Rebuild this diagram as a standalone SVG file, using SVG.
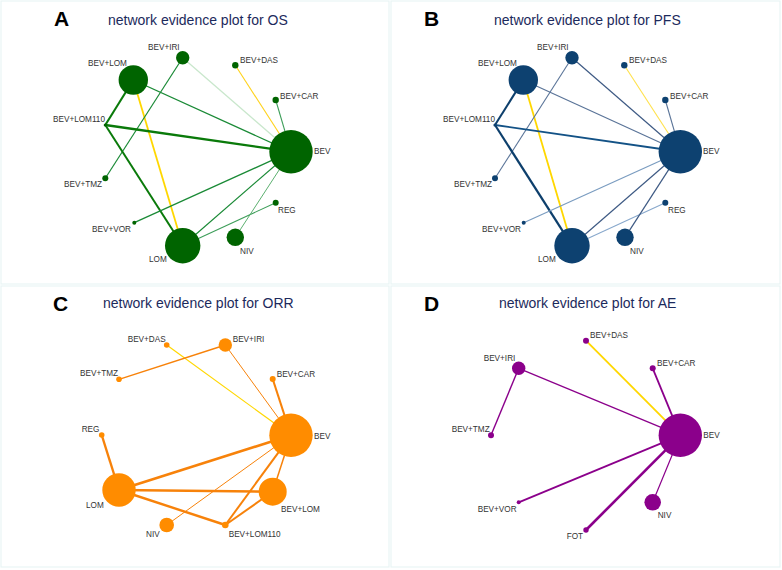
<svg xmlns="http://www.w3.org/2000/svg" width="782" height="570" viewBox="0 0 782 570">
<style>
.panel{fill:#ffffff;stroke:#e9f5f5;stroke-width:1.2}
.letter{font-family:"Liberation Sans",Arial,sans-serif;font-weight:bold;font-size:21px;fill:#000}
.title{font-family:"Liberation Sans",Arial,sans-serif;font-size:14px;fill:#1c2a5c}
.lbl{font-family:"Liberation Sans",Arial,sans-serif;font-size:8.2px;fill:#333}
.g{fill:#006400}.b{fill:#0d4170}.o{fill:#ff8c00}.p{fill:#8b008b}
line{stroke-linecap:butt}
.yel{stroke:#ffd700}
</style>
<rect class="panel" x="1" y="1" width="388" height="283"/>
<rect class="panel" x="391" y="1" width="389" height="283"/>
<rect class="panel" x="1" y="286" width="388" height="281"/>
<rect class="panel" x="391" y="286" width="389" height="281"/>

<!-- Panel A -->
<g id="panelA">
<text class="letter" x="54" y="26">A</text>
<text class="title" x="108" y="24.5">network evidence plot for OS</text>
<g id="edgesA" fill="none">
<line x1="133.3" y1="80" x2="291" y2="151.7" stroke="#1a8a36" stroke-width="1.3"/>
<line x1="133.3" y1="80" x2="105.3" y2="125" stroke="#0a7a0a" stroke-width="2.1"/>
<line x1="133.3" y1="80" x2="182.7" y2="245.7" class="yel" stroke-width="1.8"/>
<line x1="182.7" y1="57.7" x2="105.3" y2="178.3" stroke="#1a8a36" stroke-width="1.2"/>
<line x1="182.7" y1="57.7" x2="291" y2="151.7" stroke="#c9e7cc" stroke-width="1.3"/>
<line x1="235.3" y1="65.3" x2="291" y2="151.7" stroke="#ffd21a" stroke-width="1.1"/>
<line x1="275.7" y1="100" x2="291" y2="151.7" stroke="#3e9e5a" stroke-width="1.1"/>
<line x1="105.3" y1="125" x2="291" y2="151.7" stroke="#0a7a0a" stroke-width="2.3"/>
<line x1="105.3" y1="125" x2="182.7" y2="245.7" stroke="#0a7a0a" stroke-width="2"/>
<line x1="134.3" y1="222.7" x2="291" y2="151.7" stroke="#1a8a36" stroke-width="1.3"/>
<line x1="182.7" y1="245.7" x2="291" y2="151.7" stroke="#1a8a36" stroke-width="1.2"/>
<line x1="182.7" y1="245.7" x2="275.7" y2="202.7" stroke="#3e9e5a" stroke-width="1.1"/>
<line x1="235.3" y1="237.3" x2="291" y2="151.7" stroke="#5cb070" stroke-width="1"/>
</g>
<g id="A_BEV_LOM"><circle class="g" cx="133.3" cy="80" r="14.7"/><text class="lbl" x="88" y="66">BEV+LOM</text></g>
<g id="A_BEV_IRI"><circle class="g" cx="182.7" cy="57.7" r="6.7"/><text class="lbl" x="148" y="50">BEV+IRI</text></g>
<g id="A_BEV_DAS"><circle class="g" cx="235.3" cy="65.3" r="3.2"/><text class="lbl" x="240" y="63">BEV+DAS</text></g>
<g id="A_BEV_CAR"><circle class="g" cx="275.7" cy="100" r="3.2"/><text class="lbl" x="280" y="99">BEV+CAR</text></g>
<g id="A_BEV_LOM110"><circle class="g" cx="105.3" cy="125" r="1.6"/><text class="lbl" x="53" y="121.7">BEV+LOM110</text></g>
<g id="A_BEV"><circle class="g" cx="291" cy="151.7" r="21.7"/><text class="lbl" x="314" y="154">BEV</text></g>
<g id="A_BEV_TMZ"><circle class="g" cx="105.3" cy="178.3" r="3"/><text class="lbl" x="64" y="187.3">BEV+TMZ</text></g>
<g id="A_REG"><circle class="g" cx="275.7" cy="202.7" r="3"/><text class="lbl" x="278" y="213.3">REG</text></g>
<g id="A_BEV_VOR"><circle class="g" cx="134.3" cy="222.7" r="2"/><text class="lbl" x="92" y="232.3">BEV+VOR</text></g>
<g id="A_NIV"><circle class="g" cx="235.3" cy="237.3" r="8.7"/><text class="lbl" x="240" y="254">NIV</text></g>
<g id="A_LOM"><circle class="g" cx="182.7" cy="245.7" r="17.7"/><text class="lbl" x="149" y="261.7">LOM</text></g>
</g>

<!-- Panel B -->
<g id="panelB">
<text class="letter" x="424" y="26">B</text>
<text class="title" x="494" y="24.5">network evidence plot for PFS</text>
<g id="edgesB" fill="none">
<line x1="523.3" y1="80" x2="680.3" y2="151.7" stroke="#5a7498" stroke-width="1.2"/>
<line x1="523.3" y1="80" x2="495" y2="125" stroke="#0d3f6c" stroke-width="2.1"/>
<line x1="523.3" y1="80" x2="572" y2="245.7" class="yel" stroke-width="1.8"/>
<line x1="572" y1="57.7" x2="495" y2="178.3" stroke="#5a7498" stroke-width="1.1"/>
<line x1="572" y1="57.7" x2="680.3" y2="151.7" stroke="#3e5a84" stroke-width="1.2"/>
<line x1="624.3" y1="65.3" x2="680.3" y2="151.7" stroke="#ffe14a" stroke-width="1.1"/>
<line x1="665.3" y1="100" x2="680.3" y2="151.7" stroke="#5a7498" stroke-width="1.1"/>
<line x1="495" y1="125" x2="680.3" y2="151.7" stroke="#135286" stroke-width="1.9"/>
<line x1="495" y1="125" x2="572" y2="245.7" stroke="#0d3f6c" stroke-width="2.2"/>
<line x1="523.7" y1="222.7" x2="680.3" y2="151.7" stroke="#7a9cc0" stroke-width="1.2"/>
<line x1="572" y1="245.7" x2="680.3" y2="151.7" stroke="#3e5a84" stroke-width="1.2"/>
<line x1="572" y1="245.7" x2="665.3" y2="202.7" stroke="#88a8cc" stroke-width="1.1"/>
<line x1="625" y1="237.3" x2="680.3" y2="151.7" stroke="#3e5a84" stroke-width="1.2"/>
</g>
<g id="B_BEV_LOM"><circle class="b" cx="523.3" cy="80" r="14.7"/><text class="lbl" x="478" y="66">BEV+LOM</text></g>
<g id="B_BEV_IRI"><circle class="b" cx="572" cy="57.7" r="6.7"/><text class="lbl" x="537" y="50">BEV+IRI</text></g>
<g id="B_BEV_DAS"><circle class="b" cx="624.3" cy="65.3" r="3.2"/><text class="lbl" x="629" y="63">BEV+DAS</text></g>
<g id="B_BEV_CAR"><circle class="b" cx="665.3" cy="100" r="3.2"/><text class="lbl" x="670" y="99">BEV+CAR</text></g>
<g id="B_BEV_LOM110"><circle class="b" cx="495" cy="125" r="1.6"/><text class="lbl" x="443" y="121.7">BEV+LOM110</text></g>
<g id="B_BEV"><circle class="b" cx="680.3" cy="151.7" r="21.7"/><text class="lbl" x="703" y="154">BEV</text></g>
<g id="B_BEV_TMZ"><circle class="b" cx="495" cy="178.3" r="3"/><text class="lbl" x="454" y="187.3">BEV+TMZ</text></g>
<g id="B_REG"><circle class="b" cx="665.3" cy="202.7" r="3"/><text class="lbl" x="668" y="213.3">REG</text></g>
<g id="B_BEV_VOR"><circle class="b" cx="523.7" cy="222.7" r="2"/><text class="lbl" x="482" y="232.3">BEV+VOR</text></g>
<g id="B_NIV"><circle class="b" cx="625" cy="237.3" r="8.7"/><text class="lbl" x="630" y="254">NIV</text></g>
<g id="B_LOM"><circle class="b" cx="572" cy="245.7" r="17.7"/><text class="lbl" x="538" y="261.7">LOM</text></g>
</g>

<!-- Panel C -->
<g id="panelC">
<text class="letter" x="53" y="311">C</text>
<text class="title" x="103" y="308">network evidence plot for ORR</text>
<g id="edgesC" fill="none" stroke="#f7820a">
<line x1="166.7" y1="345" x2="291" y2="435.3" stroke="#ffd700" stroke-width="1.2"/>
<line x1="225.3" y1="345" x2="119" y2="379.3" stroke-width="1.4"/>
<line x1="225.3" y1="345" x2="291" y2="435.3" stroke-width="1"/>
<line x1="272.7" y1="379" x2="291" y2="435.3" stroke-width="2.1"/>
<line x1="101.7" y1="435" x2="119" y2="490" stroke-width="2.4"/>
<line x1="119" y1="490" x2="291" y2="435.3" stroke-width="2.6"/>
<line x1="119" y1="490" x2="272.7" y2="491.7" stroke-width="2.6"/>
<line x1="119" y1="490" x2="225.3" y2="525" stroke-width="2.4"/>
<line x1="166.7" y1="525" x2="291" y2="435.3" stroke-width="1"/>
<line x1="225.3" y1="525" x2="291" y2="435.3" stroke-width="2"/>
<line x1="225.3" y1="525" x2="272.7" y2="491.7" stroke-width="2"/>
<line x1="272.7" y1="491.7" x2="291" y2="435.3" stroke-width="1.5"/>
</g>
<g id="C_BEV_DAS"><circle class="o" cx="166.7" cy="345" r="2.8"/><text class="lbl" x="127.7" y="341.7">BEV+DAS</text></g>
<g id="C_BEV_IRI"><circle class="o" cx="225.3" cy="345" r="6.7"/><text class="lbl" x="232.7" y="341.7">BEV+IRI</text></g>
<g id="C_BEV_TMZ"><circle class="o" cx="119" cy="379.3" r="2.8"/><text class="lbl" x="80" y="375.7">BEV+TMZ</text></g>
<g id="C_BEV_CAR"><circle class="o" cx="272.7" cy="379" r="3"/><text class="lbl" x="276.7" y="376.7">BEV+CAR</text></g>
<g id="C_REG"><circle class="o" cx="101.7" cy="435" r="2.8"/><text class="lbl" x="81.7" y="431.7">REG</text></g>
<g id="C_BEV"><circle class="o" cx="291" cy="435.3" r="21.7"/><text class="lbl" x="314" y="439">BEV</text></g>
<g id="C_LOM"><circle class="o" cx="119" cy="490" r="16.7"/><text class="lbl" x="86" y="507.7">LOM</text></g>
<g id="C_BEV_LOM"><circle class="o" cx="272.7" cy="491.7" r="14"/><text class="lbl" x="281" y="511.7">BEV+LOM</text></g>
<g id="C_NIV"><circle class="o" cx="166.7" cy="525" r="7.3"/><text class="lbl" x="146" y="536.7">NIV</text></g>
<g id="C_BEV_LOM110"><circle class="o" cx="225.3" cy="525" r="3.3"/><text class="lbl" x="228.7" y="536.7">BEV+LOM110</text></g>
</g>

<!-- Panel D -->
<g id="panelD">
<text class="letter" x="424" y="311">D</text>
<text class="title" x="499" y="308">network evidence plot for AE</text>
<g id="edgesD" fill="none" stroke="#8b008b">
<line x1="586" y1="340.7" x2="680.3" y2="435.3" stroke="#ffd700" stroke-width="1.8"/>
<line x1="518.7" y1="368.3" x2="491" y2="435.3" stroke-width="1.4"/>
<line x1="518.7" y1="368.3" x2="680.3" y2="435.3" stroke-width="1.3"/>
<line x1="652.7" y1="368.3" x2="680.3" y2="435.3" stroke-width="1.8"/>
<line x1="518.7" y1="502.3" x2="680.3" y2="435.3" stroke-width="1.8"/>
<line x1="586" y1="530" x2="680.3" y2="435.3" stroke-width="2.6"/>
<line x1="652.7" y1="502.3" x2="680.3" y2="435.3" stroke-width="1.2"/>
</g>
<g id="D_BEV_DAS"><circle class="p" cx="586" cy="340.7" r="3"/><text class="lbl" x="590" y="338.3">BEV+DAS</text></g>
<g id="D_BEV_IRI"><circle class="p" cx="518.7" cy="368.3" r="6.7"/><text class="lbl" x="483.7" y="361">BEV+IRI</text></g>
<g id="D_BEV_CAR"><circle class="p" cx="652.7" cy="368.3" r="3"/><text class="lbl" x="657" y="366">BEV+CAR</text></g>
<g id="D_BEV_TMZ"><circle class="p" cx="491" cy="435.3" r="3"/><text class="lbl" x="451.7" y="431.7">BEV+TMZ</text></g>
<g id="D_BEV"><circle class="p" cx="680.3" cy="435.3" r="21.7"/><text class="lbl" x="703.3" y="438.3">BEV</text></g>
<g id="D_BEV_VOR"><circle class="p" cx="518.7" cy="502.3" r="2"/><text class="lbl" x="477.7" y="511.7">BEV+VOR</text></g>
<g id="D_NIV"><circle class="p" cx="652.7" cy="502.3" r="8.3"/><text class="lbl" x="657.7" y="518.3">NIV</text></g>
<g id="D_FOT"><circle class="p" cx="586" cy="530" r="2.7"/><text class="lbl" x="566.7" y="539">FOT</text></g>
</g>
</svg>
